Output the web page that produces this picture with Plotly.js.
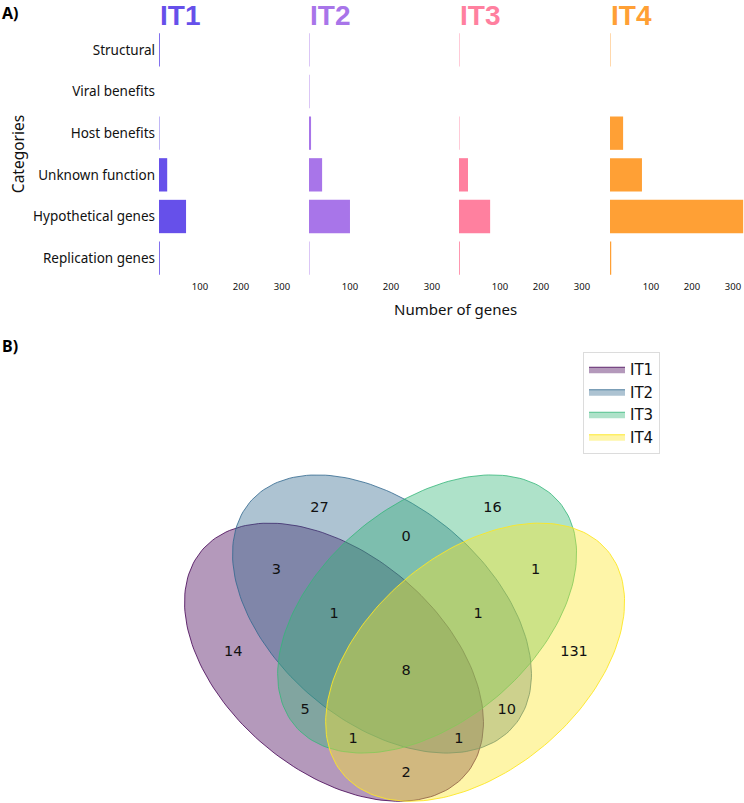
<!DOCTYPE html>
<html><head><meta charset="utf-8">
<script src="https://cdn.plot.ly/plotly-3.0.1.min.js"></script>
<style>html,body{margin:0;padding:0;background:#fff}</style>
</head><body><div id="chart" style="width:744px;height:803px"></div>
<script>
// ---- Data (panel A) ----
const categories = ["Structural","Viral benefits","Host benefits","Unknown function","Hypothetical genes","Replication genes"];
const groups = ["IT1","IT2","IT3","IT4"];
const it1Genes = [2, 0, 1, 20, 66, 2];
const it2Genes = [1, 1, 5, 32, 100, 1];
const it3Genes = [1, 0, 1, 22, 76, 2];
const it4Genes = [1, 0, 32, 78, 325, 3];
const geneTicks = [100, 200, 300];

// ---- Data (panel B, Venn region counts) ----
const vennRegions = ["0001","0010","0011","0100","0101","0110","0111","1000","1001","1010","1011","1100","1101","1110","1111"];
const vennCounts  = [131, 16, 1, 27, 10, 0, 1, 14, 2, 5, 1, 3, 1, 1, 8];

// ---- Styling / geometry ----
const barColors = ["#6650EA", "#A875E9", "#FF809F", "#FFA035"];
const vennFill = ["rgba(68,1,84,0.4)", "rgba(49,104,142,0.4)", "rgba(53,183,121,0.4)", "rgba(253,231,37,0.4)"];
const vennEdge = ["rgba(68,1,84,0.8)", "rgba(49,104,142,0.8)", "rgba(53,183,121,0.8)", "rgba(253,231,37,0.9)"];
const ellipseGeom = [
  {cx: 0.350, cy: 0.400, w: 0.72, h: 0.45, a: 140},
  {cx: 0.450, cy: 0.500, w: 0.72, h: 0.45, a: 140},
  {cx: 0.544, cy: 0.500, w: 0.72, h: 0.45, a: 40},
  {cx: 0.644, cy: 0.400, w: 0.72, h: 0.45, a: 40}
];
const labelPos = {
  "0001": [.85, .42], "0010": [.68, .72], "0011": [.77, .59],
  "0100": [.32, .72], "0101": [.71, .30], "0110": [.50, .66],
  "0111": [.65, .50], "1000": [.14, .42], "1001": [.50, .17],
  "1010": [.29, .30], "1011": [.39, .24], "1100": [.23, .59],
  "1101": [.61, .24], "1110": [.35, .50], "1111": [.50, .38]
};

const W = 744, H = 803;
const px = v => v / W, py = v => 1 - v / H;
const xStarts = [159, 309, 459, 610];
const panelW = 134;
const xRange = [0, 327];

const seriesList = [it1Genes, it2Genes, it3Genes, it4Genes];
const traces = [];
seriesList.forEach((vals, i) => {
  traces.push({
    type: "bar", orientation: "h",
    x: vals, y: categories,
    xaxis: i === 0 ? "x" : "x" + (i + 1), yaxis: "y",
    marker: {color: barColors[i], line: {width: 0}},
    showlegend: false, hoverinfo: "x+y", name: groups[i]
  });
});

function ellipsePts(g) {
  const xs = [], ys = [];
  const th = g.a * Math.PI / 180, A = g.w / 2, B = g.h / 2;
  for (let k = 0; k <= 180; k++) {
    const t = 2 * Math.PI * k / 180;
    xs.push(g.cx + A * Math.cos(t) * Math.cos(th) - B * Math.sin(t) * Math.sin(th));
    ys.push(g.cy + A * Math.cos(t) * Math.sin(th) + B * Math.sin(t) * Math.cos(th));
  }
  return {xs, ys};
}
ellipseGeom.forEach((g, i) => {
  const p = ellipsePts(g);
  traces.push({
    type: "scatter", mode: "lines", x: p.xs, y: p.ys,
    xaxis: "x5", yaxis: "y5", fill: "toself",
    fillcolor: vennFill[i], line: {color: vennEdge[i], width: 1},
    name: groups[i], showlegend: true, hoverinfo: "name"
  });
});
traces.push({
  type: "scatter", mode: "text",
  x: vennRegions.map(r => labelPos[r][0]),
  y: vennRegions.map(r => labelPos[r][1]),
  text: vennCounts.map(String),
  textposition: "middle center",
  textfont: {family: "DejaVu Sans", size: 14.5, color: "#111"},
  xaxis: "x5", yaxis: "y5", showlegend: false, hoverinfo: "skip"
});

const layout = {
  width: W, height: H,
  margin: {l: 0, r: 0, t: 0, b: 0},
  paper_bgcolor: "#fff", plot_bgcolor: "rgba(0,0,0,0)",
  font: {family: "Noto Sans", color: "#111"},
  showlegend: true,
  legend: {
    x: px(583), y: py(352), xanchor: "left", yanchor: "top",
    bgcolor: "#fff", bordercolor: "#dcdcdc", borderwidth: 1,
    font: {family: "DejaVu Sans", size: 15, color: "#111"},
    tracegroupgap: 0, itemclick: false, itemwidth: 36
  },
  yaxis: {
    domain: [py(279), py(29)], anchor: "x",
    type: "category", categoryorder: "array", categoryarray: categories,
    autorange: "reversed",
    showgrid: false, zeroline: false, showline: false, ticks: "",
    tickfont: {family: "Noto Sans", size: 13.5, color: "#111"},
    ticklabelstandoff: 3,
    title: {text: "Categories", font: {family: "Noto Sans", size: 15.5, color: "#111"}, standoff: 4}
  },
  xaxis5: {domain: [px(166), px(646)], range: [0, 1], anchor: "y5",
    visible: false, showgrid: false, zeroline: false, fixedrange: true},
  yaxis5: {domain: [0, py(373)], range: [(855 - 803) / 482, 1.0], anchor: "x5",
    visible: false, showgrid: false, zeroline: false, fixedrange: true},
  annotations: [
    {text: "<b>A)</b>", x: px(0), y: py(0), xref: "paper", yref: "paper", xanchor: "left", yanchor: "top",
     showarrow: false, font: {family: "Noto Sans", size: 16, color: "#000"}},
    {text: "<b>B)</b>", x: px(0), y: py(333), xref: "paper", yref: "paper", xanchor: "left", yanchor: "top",
     showarrow: false, font: {family: "Noto Sans", size: 16, color: "#000"}},
    {text: "Number of genes", x: px(455), y: py(309), xref: "paper", yref: "paper", xanchor: "center", yanchor: "middle",
     showarrow: false, font: {family: "Noto Sans", size: 15, color: "#111"}}
  ]
};
xStarts.forEach((s, i) => {
  const key = i === 0 ? "xaxis" : "xaxis" + (i + 1);
  layout[key] = {
    domain: [px(s), Math.min(1, px(s + panelW))], range: xRange, anchor: "y",
    showgrid: false, zeroline: false, showline: false, ticks: "",
    ticklabelstandoff: 0,
    tickvals: geneTicks, ticktext: geneTicks.map(String),
    tickfont: {family: "Noto Sans", size: 9.5, color: "#111"}
  };
  layout.annotations.push({
    text: "<b>" + groups[i] + "</b>", x: px(s - 1), y: py(-2), xref: "paper", yref: "paper",
    xanchor: "left", yanchor: "top", showarrow: false,
    font: {family: "Liberation Sans", size: 28, color: barColors[i]}
  });
});

Plotly.newPlot("chart", traces, layout, {displayModeBar: false, staticPlot: true});
</script></body></html>
